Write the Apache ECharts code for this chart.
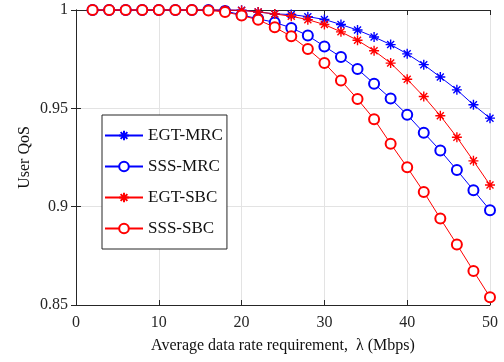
<!DOCTYPE html>
<html>
<head>
<meta charset="utf-8">
<script src="https://cdn.jsdelivr.net/npm/echarts@6/dist/echarts.min.js"></script>
<style>
  html, body { margin: 0; padding: 0; background: #fff; }
  #chart { width: 504px; height: 362px; }
</style>
</head>
<body>
<div id="chart"></div>
<script>
// data rate requirement (Mbps)
const rates = [2, 4, 6, 8, 10, 12, 14, 16, 18, 20, 22, 24, 26, 28, 30, 32, 34, 36, 38, 40, 42, 44, 46, 48, 50];

const egtMrc = [1, 1, 1, 1, 1, 1, 1, 1, 1, 0.9999, 0.999, 0.998, 0.9977, 0.9966, 0.9952, 0.9926, 0.9898, 0.9863, 0.9824, 0.9777, 0.9722, 0.9659, 0.9594, 0.9518, 0.945];
const sssMrc = [1, 1, 1, 1, 1, 1, 1, 1, 0.9995, 0.9975, 0.9955, 0.9937, 0.9909, 0.987, 0.9815, 0.9761, 0.97, 0.9625, 0.955, 0.9467, 0.9376, 0.9285, 0.9186, 0.9084, 0.8982];
const egtSbc = [1, 1, 1, 1, 1, 1, 1, 1, 1, 0.9998, 0.999, 0.998, 0.9968, 0.9951, 0.9926, 0.9889, 0.9846, 0.9793, 0.973, 0.9648, 0.956, 0.9462, 0.9353, 0.9233, 0.911];
const sssSbc = [1, 1, 1, 1, 1, 1, 1, 0.9998, 0.999, 0.9972, 0.995, 0.9912, 0.9866, 0.9802, 0.973, 0.9641, 0.9547, 0.9445, 0.932, 0.92, 0.9075, 0.894, 0.8808, 0.8673, 0.854];

const seriesNames = ["EGT-MRC", "SSS-MRC", "EGT-SBC", "SSS-SBC"];

const BLUE = "#0000ff";
const RED = "#ff0000";
const FONT = "Liberation Serif";
const asterisk = "path://M0,-10L0,10M-10,0L10,0M-7,-7L7,7M-7,7L7,-7";

const pairs = (ys) => rates.map((x, i) => [x, ys[i]]);

const mkSeries = (name, ys, color, star) => ({
  name,
  type: "line",
  data: pairs(ys),
  symbol: star ? asterisk : "emptyCircle",
  symbolSize: 10,
  showAllSymbol: true,
  clip: false,
  lineStyle: { color, width: 1 },
  itemStyle: { color, borderColor: color, borderWidth: star ? 1.4 : 1 },
  emphasis: { disabled: true },
  animation: false,
});

const chart = echarts.init(document.getElementById("chart"));

const axisLine = { show: true, lineStyle: { color: "#262626", width: 1 } };
const labelStyle = { color: "#262626", fontFamily: FONT, fontSize: 16 };

chart.setOption({
  backgroundColor: "#fff",
  animation: false,
  grid: { left: 76, right: 14, top: 10, bottom: 57 },
  legend: {
    orient: "vertical",
    left: 102,
    top: 115,
    data: seriesNames,
    itemWidth: 38,
    itemHeight: 12,
    itemGap: 14,
    padding: [12, 4, 12, 2],
    borderColor: "#262626",
    borderWidth: 1,
    backgroundColor: "#fff",
    textStyle: { color: "#111", fontFamily: FONT, fontSize: 17 },
  },
  xAxis: [
    {
      type: "value",
      min: 0,
      max: 50,
      interval: 10,
      position: "bottom",
      name: "Average data rate requirement,  \u03bb (Mbps)",
      nameLocation: "middle",
      nameGap: 33,
      nameTextStyle: { color: "#111", fontFamily: FONT, fontSize: 16 },
      axisLine,
      axisTick: { inside: true, length: 5, lineStyle: { color: "#262626" } },
      axisLabel: { ...labelStyle, margin: 10 },
      splitLine: { show: true, lineStyle: { color: "#e3e3e3", width: 1 } },
    },
    {
      type: "value",
      min: 0,
      max: 50,
      interval: 10,
      position: "top",
      axisLine,
      axisTick: { inside: true, length: 5, lineStyle: { color: "#262626" } },
      axisLabel: { show: false },
      splitLine: { show: false },
    },
  ],
  yAxis: [
    {
      type: "value",
      min: 0.85,
      max: 1,
      interval: 0.05,
      position: "left",
      name: "User QoS",
      nameLocation: "middle",
      nameGap: 43,
      nameMoveOverlap: false,
      nameTextStyle: { color: "#111", fontFamily: FONT, fontSize: 16 },
      axisLine,
      axisTick: { inside: true, length: 5, lineStyle: { color: "#262626" } },
      axisLabel: {
        ...labelStyle,
        margin: 8,
        formatter: (v) => (Math.abs(v - 1) < 1e-9 ? "1" : String(+v.toFixed(2))),
      },
      splitLine: { show: true, lineStyle: { color: "#e3e3e3", width: 1 } },
    },
    {
      type: "value",
      min: 0.85,
      max: 1,
      interval: 0.05,
      position: "right",
      axisLine,
      axisTick: { inside: true, length: 5, lineStyle: { color: "#262626" } },
      axisLabel: { show: false },
      splitLine: { show: false },
    },
  ],
  series: [
    mkSeries("EGT-MRC", egtMrc, BLUE, true),
    mkSeries("SSS-MRC", sssMrc, BLUE, false),
    mkSeries("EGT-SBC", egtSbc, RED, true),
    mkSeries("SSS-SBC", sssSbc, RED, false),
  ],
});
</script>
</body>
</html>
